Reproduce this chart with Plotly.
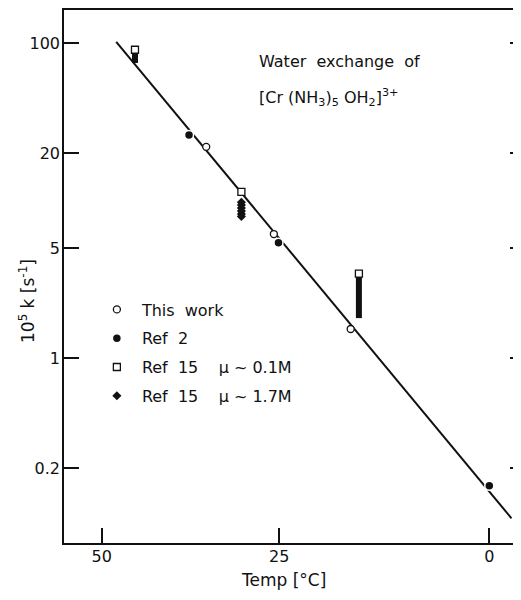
import plotly.graph_objects as go

# ---- data (temperatures in deg C, rate constants as 10^5 k in s^-1) ----
this_work_T = [34.8, 25.7, 16.0]
this_work_k = [22.0, 6.15, 1.535]

ref2_T = [37.2, 25.1, 0.0]
ref2_k = [26.2, 5.42, 0.155]

ref15_low_T = [45.0, 30.0, 15.0]
ref15_low_k = [91.0, 11.4, 3.45]
ref15_low_spread = [16.0, 0.0, 1.65]   # downward extent of the stacked values

ref15_high_T = [30.0, 30.0, 30.0, 30.0, 30.0, 30.0]
ref15_high_k = [9.8, 9.4, 9.0, 8.6, 8.25, 7.95]

fit_T = [47.8, -2.4]
fit_k = [102.0, 0.0964]

x_tick_T = [50, 25, 0]
y_ticks = [0.2, 1, 5, 20, 100]
y_tick_text = ["0.2", "1", "5", "20", "100"]


def inv(T_list):
    return [1000.0 / (t + 273.15) for t in T_list]


FONT = "DejaVu Sans"
INK = "#111111"

fig = go.Figure()

fig.add_trace(go.Scatter(
    x=inv(fit_T), y=fit_k, mode="lines",
    line=dict(color=INK, width=2), showlegend=False, hoverinfo="skip"))

fig.add_trace(go.Scatter(
    x=inv(this_work_T), y=this_work_k, mode="markers", name="This  work",
    legendgroup="a",
    marker=dict(symbol="circle", size=7, color="white",
                line=dict(color=INK, width=1.3))))

fig.add_trace(go.Scatter(
    x=inv(ref2_T), y=ref2_k, mode="markers", name="Ref  2",
    legendgroup="b",
    marker=dict(symbol="circle", size=9, color=INK,
                line=dict(color="white", width=1.5))))

fig.add_trace(go.Scatter(
    x=inv(ref15_low_T), y=ref15_low_k, mode="markers",
    name="Ref  15    \u03bc ~ 0.1M", legendgroup="c",
    error_y=dict(type="data", symmetric=False, array=[0] * len(ref15_low_k),
                 arrayminus=ref15_low_spread, color=INK, thickness=6, width=0),
    marker=dict(symbol="square", size=7, color="white",
                line=dict(color=INK, width=1.3))))

fig.add_trace(go.Scatter(
    x=inv(ref15_high_T), y=ref15_high_k, mode="markers",
    name="Ref  15    \u03bc ~ 1.7M", legendgroup="d",
    marker=dict(symbol="diamond", size=7, color=INK,
                line=dict(color=INK, width=0))))

# invisible trace to anchor the right-hand tick axis
fig.add_trace(go.Scatter(x=[], y=[], yaxis="y2", showlegend=False))

xr = [3.03944, 3.70732]
yr = [-1.1727, 2.2114]

# the page body adds an 8px margin, so the figure is sized to fit the window
fig.update_layout(
    width=513, height=592,
    margin=dict(l=56, r=0, t=2, b=57),
    paper_bgcolor="white", plot_bgcolor="white",
    font=dict(family=FONT, size=15, color=INK),
    xaxis=dict(range=xr, tickvals=inv(x_tick_T),
               ticktext=[str(t) for t in x_tick_T],
               ticks="inside", ticklen=15, tickwidth=1.5, tickcolor=INK,
               showline=True, linecolor=INK, linewidth=1.5, mirror=True,
               showgrid=False, zeroline=False, ticklabelstandoff=-2,
               tickfont=dict(size=16, family=FONT, color=INK)),
    yaxis=dict(type="log", range=yr, tickvals=y_ticks, ticktext=y_tick_text,
               ticks="inside", ticklen=15, tickwidth=1.5, tickcolor=INK,
               showline=True, linecolor=INK, linewidth=1.5,
               showgrid=False, zeroline=False, ticklabelstandoff=-1,
               tickfont=dict(size=16, family=FONT, color=INK)),
    yaxis2=dict(type="log", range=yr, tickvals=y_ticks, overlaying="y",
                side="right", ticks="inside", ticklen=11, tickwidth=1.5,
                tickcolor=INK, showline=False, showgrid=False,
                showticklabels=False, zeroline=False),
    legend=dict(x=0.061, y=0.47, xanchor="left", yanchor="top",
                bgcolor="rgba(0,0,0,0)", font=dict(size=16, family=FONT),
                tracegroupgap=5, traceorder="grouped", itemwidth=40),
    showlegend=True,
)

fig.add_annotation(text="Water  exchange  of", xref="paper", yref="paper",
                   x=(257 - 64) / 457, y=(543 - 62) / 533, xanchor="left",
                   yanchor="middle", showarrow=False,
                   font=dict(size=16, family=FONT, color=INK))
fig.add_annotation(text="[Cr (NH<sub>3</sub>)<sub>5</sub> OH<sub>2</sub>]<sup>3+</sup>",
                   xref="paper", yref="paper",
                   x=(257 - 64) / 457, y=(543 - 97) / 533, xanchor="left",
                   yanchor="middle", showarrow=False,
                   font=dict(size=16, family=FONT, color=INK))
fig.add_annotation(text="10<sup>5</sup> k [s<sup>-1</sup>]", xref="paper",
                   yref="paper", x=(27 - 64) / 457, y=(543 - 301) / 533,
                   xanchor="center", yanchor="middle", textangle=-90,
                   showarrow=False, font=dict(size=17, family=FONT, color=INK))
fig.add_annotation(text="Temp [\u00b0C]", xref="paper", yref="paper",
                   x=(283 - 64) / 457, y=-(580 - 543) / 533,
                   xanchor="center", yanchor="middle", showarrow=False,
                   font=dict(size=17, family=FONT, color=INK))

fig.write_html("out.html")
